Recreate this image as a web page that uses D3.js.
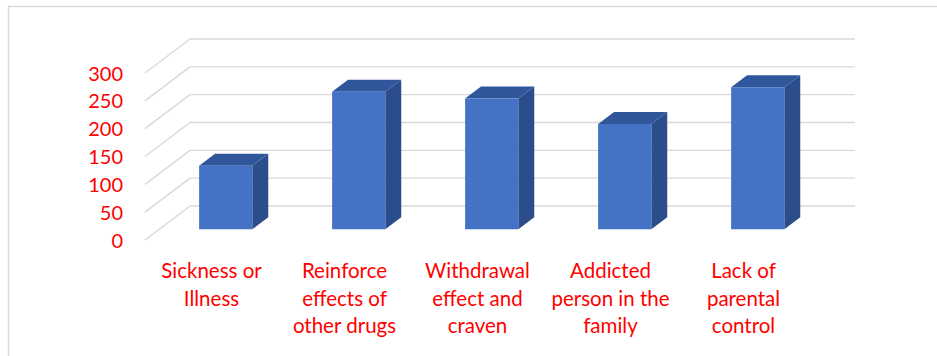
<!DOCTYPE html>
<html>
<head>
<meta charset="utf-8">
<script src="https://cdn.jsdelivr.net/npm/d3@7"></script>
<style>
  html, body { margin: 0; padding: 0; background: #ffffff; }
  svg { display: block; }
</style>
</head>
<body>
<svg id="chart" width="937" height="356"></svg>
<script>
// ---- data ----
const categories = [
  ["Sickness or", "Illness"],
  ["Reinforce", "effects of", "other drugs"],
  ["Withdrawal", "effect and", "craven"],
  ["Addicted", "person in the", "family"],
  ["Lack of", "parental", "control"]
];
const values = [114, 247, 235, 189, 255];
const yTicks = [0, 50, 100, 150, 200, 250, 300];

// ---- geometry ----
const W = 937, H = 356;
const svg = d3.select("#chart");

const backLeft = 190, backRight = 855;
const depthDX = -45, depthDY = 34;   // offset from back wall to front edge of floor

const x = d3.scaleBand().domain(d3.range(values.length)).range([backLeft, backRight]);
const y = d3.scaleLinear().domain([0, 300]).range([206, 39]);
const labelX = d3.scaleBand().domain(d3.range(categories.length))
  .range([backLeft + depthDX, backRight + depthDX]);

const proj = (px, py, d) => [px + depthDX * d, py + depthDY * d];

// frame
svg.append("rect")
  .attr("x", 8.5).attr("y", 6.5)
  .attr("width", W + 20).attr("height", H + 20)
  .attr("fill", "none").attr("stroke", "#d9d9d9").attr("stroke-width", 1.5);

// gridlines: back wall + left wall diagonals
const grid = svg.append("g").attr("stroke", "#d9d9d9").attr("stroke-width", 1.4).attr("fill", "none");
yTicks.forEach(t => {
  const yb = y(t);
  grid.append("line")
    .attr("x1", backLeft).attr("x2", backRight)
    .attr("y1", yb).attr("y2", yb);
  const f = proj(backLeft, yb, 1);
  grid.append("line")
    .attr("x1", backLeft).attr("y1", yb)
    .attr("x2", f[0]).attr("y2", f[1]);
});

// y-axis labels (front plane)
svg.append("g")
  .selectAll("text")
  .data(yTicks)
  .join("text")
  .attr("x", 123)
  .attr("y", d => proj(0, y(d), 1)[1] + 7.5)
  .attr("text-anchor", "end")
  .attr("font-family", "Lato, 'Open Sans', sans-serif")
  .attr("font-size", 20)
  .attr("fill", "#ff0000")
  .text(d => d);

// 3D bars
const dFront = 0.684, dBack = 0.33;
const barFrac = 0.4;
const bars = svg.append("g");
values.forEach((v, i) => {
  const cx = x(i) + x.bandwidth() / 2;
  const hw = x.bandwidth() * barFrac / 2;
  const xl = cx - hw, xr = cx + hw;
  const y0 = y(0), y1 = y(v);
  const fBL = proj(xl, y0, dFront), fBR = proj(xr, y0, dFront);
  const fTL = proj(xl, y1, dFront), fTR = proj(xr, y1, dFront);
  const bBR = proj(xr, y0, dBack), bTR = proj(xr, y1, dBack), bTL = proj(xl, y1, dBack);
  const pts = a => a.map(p => p.join(",")).join(" ");
  // side (right)
  bars.append("polygon").attr("points", pts([fBR, bBR, bTR, fTR])).attr("fill", "#2c4d8c");
  // top
  bars.append("polygon").attr("points", pts([fTL, fTR, bTR, bTL])).attr("fill", "#30569c");
  // front
  bars.append("polygon").attr("points", pts([fBL, fBR, fTR, fTL])).attr("fill", "#4472c4");
});

// category labels (front edge of floor)
const lab = svg.append("g");
categories.forEach((lines, i) => {
  const g = lab.append("g")
    .attr("transform", `translate(${labelX(i) + labelX.bandwidth() / 2},278)`);
  g.selectAll("text")
    .data(lines)
    .join("text")
    .attr("x", 0)
    .attr("y", (d, j) => j * 27.7)
    .attr("text-anchor", "middle")
    .attr("font-family", "Lato, 'Open Sans', sans-serif")
    .attr("font-size", 20.5)
    .attr("fill", "#ff0000")
    .text(d => d);
});
</script>
</body>
</html>
